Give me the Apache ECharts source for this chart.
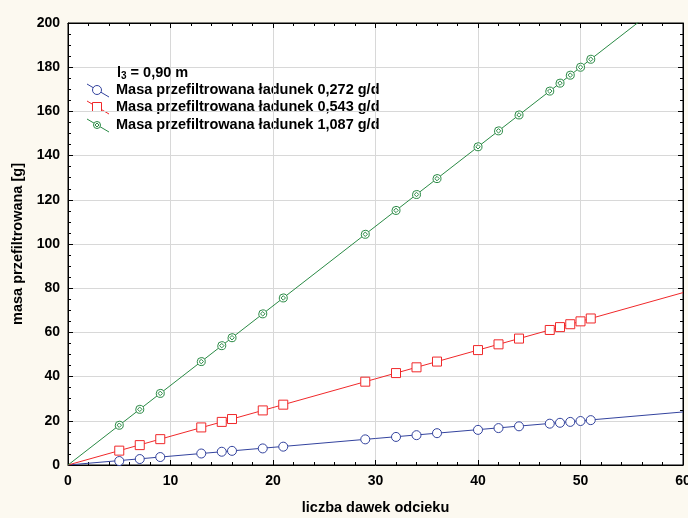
<!DOCTYPE html>
<html><head><meta charset="utf-8">
<script src="https://cdn.jsdelivr.net/npm/echarts@6/dist/echarts.min.js"></script>
<style>html,body{margin:0;padding:0;background:#fcf9f0;}#c{width:688px;height:518px;}</style>
</head><body><div id="c"></div>
<script>
const xDoses = [5,7,9,13,15,16,19,21,29,32,34,36,40,42,44,47,48,49,50,51];
const mass0272 = [1.8,2.7,3.6,5.2,6,6.4,7.5,8.3,11.6,12.7,13.5,14.4,15.9,16.7,17.5,18.7,19.1,19.5,19.9,20.3];
const mass0543 = [6.5,9,11.7,17,19.5,20.8,24.7,27.3,37.7,41.6,44.2,46.8,52,54.6,57.2,61.1,62.4,63.7,65,66.3];
const mass1087 = [18,25.2,32.4,46.8,54,57.6,68.4,75.6,104.4,115.2,122.4,129.6,144,151.2,158.4,169.2,172.8,176.4,180,183.6];
const fitEnds = {x:[0,60], b:[0,24], r:[0,78], g:[0,216]};
const names = ['Masa przefiltrowana ładunek 0,272 g/d','Masa przefiltrowana ładunek 0,543 g/d','Masa przefiltrowana ładunek 1,087 g/d'];
const colors = ['#33439e','#f0282a','#2a8a45'];
const font = 'Liberation Sans, Arial, sans-serif';
const circSym = 'path://M50,0A50,50,0,1,1,49.9,0Z';
const rectSym = 'path://M0,0H100V100H0Z';
const greenSym = 'path://M50,0A50,50,0,1,1,49.9,0ZM50,22L78,50L50,78L22,50Z';
function pts(ys){return xDoses.map((x,i)=>[x,ys[i]]);}
function fit(ys){return fitEnds.x.map((x,i)=>[x,ys[i]]);}
const chart = echarts.init(document.getElementById('c'));
const ax = {
  axisLine:{show:true,onZero:false,lineStyle:{color:'#000',width:1}},
  axisTick:{show:true,inside:true,length:5,lineStyle:{color:'#000'}},
  minorTick:{show:true,splitNumber:5,length:3,lineStyle:{color:'#000'}},
  splitLine:{show:true,lineStyle:{color:'#d8d8d8',width:1}},
  axisLabel:{color:'#000',fontWeight:'bold',fontSize:14,fontFamily:font},
  nameTextStyle:{color:'#000',fontWeight:'bold',fontSize:14.5,fontFamily:font}
};
const mk = (i, data, sym, size) => [
  {name:names[i], type:'line', data:fit(data.fit), symbol:'none', lineStyle:{color:colors[i],width:1}, itemStyle:{color:colors[i]}, clip:true, silent:true},
  {name:names[i], type:'line', data:pts(data.pts), symbol:sym, symbolSize:size, showSymbol:true, lineStyle:{width:0,opacity:0}, itemStyle:{color:'#fff',borderColor:colors[i],borderWidth:1}, clip:true}
];
const legY = [90,107,125];
const legSyms = [
  {type:'circle', shape:{cx:0,cy:0,r:4.5}},
  {type:'rect', shape:{x:-4.5,y:-4.5,width:9,height:9}},
  {type:'group', children:[{type:'circle',shape:{cx:0,cy:0,r:3.5},style:{fill:'#fff',stroke:colors[2],lineWidth:1}},{type:'polygon',shape:{points:[[0,-2],[2,0],[0,2],[-2,0]]},style:{fill:'none',stroke:colors[2],lineWidth:1}}]}
];
const graphics = [];
legY.forEach((y,i)=>{
  graphics.push({type:'line', shape:{x1:87,y1:y-6,x2:109,y2:y+7}, style:{stroke:colors[i],lineWidth:1}});
  const s = legSyms[i];
  if (s.type==='group') graphics.push({type:'group', x:97, y:y, children:s.children});
  else graphics.push(Object.assign({}, s, {x:97, y:y, style:{fill:'#fff',stroke:colors[i],lineWidth:1}}));
  graphics.push({type:'text', x:116, y:y, style:{text:names[i], fill:'#000', font:'bold 14.5px '+font, textVerticalAlign:'middle', verticalAlign:'middle'}});
});
chart.setOption({
  backgroundColor:'#fcf9f0',
  animation:false,
  grid:{left:68,right:5,top:23,bottom:53,outerBoundsMode:'none',containLabel:false,show:true,backgroundColor:'#fff',borderColor:'#000',borderWidth:1},
  xAxis:[Object.assign({type:'value',min:0,max:60,interval:10,name:'liczba dawek odcieku',nameLocation:'middle',nameGap:35,position:'bottom'},ax,{axisLabel:Object.assign({},ax.axisLabel,{margin:9})}),
         Object.assign({type:'value',min:0,max:60,interval:10,position:'top'},ax,{axisLabel:{show:false},splitLine:{show:false}})],
  yAxis:[Object.assign({type:'value',min:0,max:200,interval:20,name:'masa przefiltrowana [g]',nameLocation:'middle',nameGap:40,position:'left'},ax,{minorTick:Object.assign({},ax.minorTick,{splitNumber:4})}),
         Object.assign({type:'value',min:0,max:200,interval:20,position:'right'},ax,{axisLabel:{show:false},splitLine:{show:false},minorTick:Object.assign({},ax.minorTick,{splitNumber:4})})],
  title:{text:'l{s|3} = 0,90 m', left:112, top:59, textStyle:{fontFamily:font,fontWeight:'bold',fontSize:14.5,color:'#000',rich:{s:{fontSize:10,fontWeight:'bold',fontFamily:font,verticalAlign:'bottom',padding:[7,0,0,0]}}}},
  graphic:graphics,
  series:[].concat(
    mk(0,{fit:fitEnds.b,pts:mass0272},circSym,9),
    mk(1,{fit:fitEnds.r,pts:mass0543},rectSym,9),
    mk(2,{fit:fitEnds.g,pts:mass1087},greenSym,8)
  )
});
</script></body></html>
